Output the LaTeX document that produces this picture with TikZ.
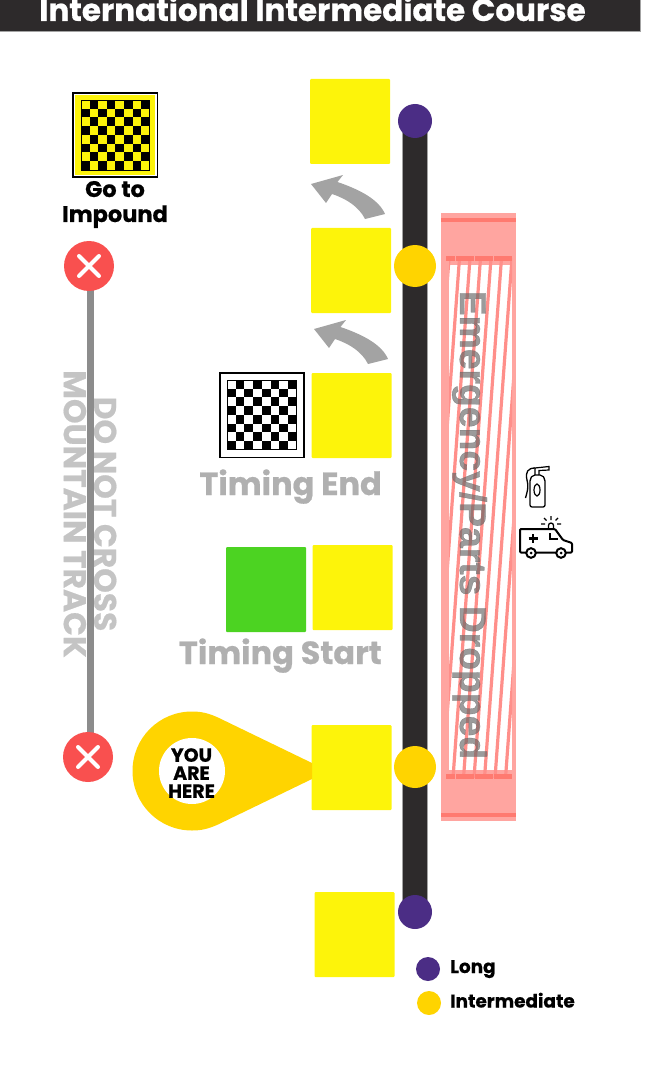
\documentclass[tikz,border=0pt]{standalone}
\usepackage{fontspec}
\setmainfont[BoldFeatures={FakeBold=0.6}]{Poppins}
\newfontfamily\signfont[BoldFeatures={FakeBold=0.8}]{Liberation Sans}
\usetikzlibrary{positioning}
\definecolor{TrackDark}{HTML}{2D2A2B}
\definecolor{PadYellow}{HTML}{FDF40A}
\definecolor{PadGreen}{HTML}{4CD322}
\definecolor{PinGold}{HTML}{FFD400}
\definecolor{LongPurple}{HTML}{4B2D85}
\definecolor{StopRed}{HTML}{F9504F}
\definecolor{ZoneRed}{HTML}{FFA5A0}
\definecolor{ZoneDark}{HTML}{FF7A70}
\definecolor{ZoneLine}{HTML}{FF8F8A}
\definecolor{SignGray}{HTML}{B0B0B0}
\definecolor{ArrowGray}{HTML}{A3A3A3}
\tikzset{
  pad/.style={fill=PadYellow, rounded corners=1pt, inner sep=0pt,
    minimum width=80pt, minimum height=85pt},
  dot/.style={circle, inner sep=0pt, minimum size=#1},
  label font/.style={inner sep=0pt, font=\fontsize{#1}{#1}\selectfont\bfseries},
  stopsign/.pic={
    \fill[StopRed] (0,0) circle (25);
    \draw[white, line width=4pt, line cap=round] (-10,-10) -- (10,10) (-10,10) -- (10,-10);
  },
  turnarrow/.pic={
    \fill[ArrowGray] (74,30) .. controls (68,16) and (50,6) .. (26.5,-2) -- (32,-9) -- (0,0)
      -- (15,19) -- (21,10) .. controls (36,15) and (48,23) .. (54,35) -- cycle;
  }
}
\newcommand{\checkers}[5]{% x, y, cell width, cell height, light colour
  \fill[#5] (#1,#2) rectangle ++({8*#3},{8*#4});
  \foreach \i in {0,...,7}
    \foreach \j in {0,...,7}{
      \pgfmathparse{int(mod(\i+\j,2))}
      \ifnum\pgfmathresult=1
        \fill[black] ({#1+\i*#3},{#2+\j*#4}) rectangle ++(#3,#4);
      \fi
    }
  \draw[black, line width=.8pt] (#1,#2) rectangle ++({8*#3},{8*#4});
}
\begin{document}
\begin{tikzpicture}[x=1pt,y=-1pt]
  \useasboundingbox (0,0) rectangle (653,1075);
  % title
  \begin{scope}
    \clip (0,0) rectangle (653,1075);
    \fill[ArrowGray] (0,0) rectangle (641,32);
    \fill[TrackDark] (0,0) rectangle (640,31);
    \node[label font=31, text=white, anchor=base] (title) at (312.5,21) {International Intermediate Course};
  \end{scope}
  % emergency zone
  \fill[ZoneRed] (441,213) rectangle (516,821);
  \fill[ZoneDark] (441,218) rectangle (516,222);
  \fill[ZoneDark] (441,813) rectangle (516,817);
  \fill[white] (449,265) rectangle (512,770);
  \begin{scope}
    \clip (449,258) rectangle (512,778);
    \foreach \k in {0,...,9}
      \draw[ZoneLine, line width=3.2pt] ({449+10.5*\k},258) -- ({411+10.5*\k},778);
  \end{scope}
  \foreach \k in {0,...,6}{
    \fill[ZoneDark] ({446+9.5*\k},256) rectangle ++(9,5);
    \fill[ZoneDark] ({446+9.5*\k},774) rectangle ++(9,5);
  }
  % track
  \draw[ArrowGray, line width=.8pt, fill=TrackDark] (402.5,120) rectangle (427.5,910);
  \node[dot=34pt, fill=LongPurple] (top) at (415,121) {};
  \node[dot=42pt, fill=PinGold] (midA) at (415,266) {};
  \node[dot=42pt, fill=PinGold] (midB) at (415,767) {};
  \node[dot=34pt, fill=LongPurple] (bot) at (415,912) {};
  % pads
  \node[pad] (padA) at (350,121.5) {};
  \node[pad] (padB) at (351,270.5) {};
  \node[pad] (padC) at (351.5,415.5) {};
  \node[pad] (padD) at (352.5,587.5) {};
  \node[pad, fill=PadGreen] (green) at (266,589.5) {};
  \node[pad] (padE) at (351.5,767.5) {};
  \node[pad] (padF) at (354.5,934.5) {};
  % arrows
  \pic at (311,184) {turnarrow};
  \pic at (314,329) {turnarrow};
  % impound flag
  \fill[black] (72,92.5) rectangle (158,178);
  \fill[white] (73.5,94) rectangle (156.5,176.5);
  \fill[PadYellow] (75,95) rectangle (155,175);
  \checkers{81}{100}{8.6}{8.75}{PadYellow}
  \node[label font=22.5, anchor=base] (goto) at (115,197) {Go to};
  \node[label font=22.5, anchor=base] (impound) at (115,222) {Impound};
  % timing flag
  \fill[black] (219,372) rectangle (304.5,458);
  \fill[white] (220.5,373.5) rectangle (303,456.5);
  \checkers{227}{380}{8.7}{8.7}{white}
  \node[label font=32, text=SignGray, anchor=base east] (tend) at (382,495) {Timing End};
  \node[label font=32, text=SignGray, anchor=base east] (tstart) at (382,664) {Timing Start};
  % mountain track
  \node[label font=31.3, text=SignGray!75, rotate=-90, align=center] (cross) at (90,514) {DO NOT CROSS\\[-1pt]MOUNTAIN TRACK};
  \draw[black!45, line width=7pt] (90.5,285) -- (90.5,735);
  \pic at (89,266) {stopsign};
  \pic at (88,757) {stopsign};
  % parts zone label
  \node[font=\signfont\bfseries\fontsize{37.3}{37.3}\selectfont, text=black!60, opacity=.65, rotate=-90, anchor=base] (parts) at (460,525) {Emergency/Parts Dropped};
  % you are here
  \fill[PinGold] (312,763) -- (218,717.5) .. controls (208,713) and (201,711.5) .. (192,711.5)
    .. controls (159,711.5) and (132.5,738) .. (132.5,771) .. controls (132.5,804) and (159,830.5) .. (192,830.5)
    .. controls (201,830.5) and (208,829) .. (218,824.5) -- (312,779) -- cycle;
  \node[dot=66pt, fill=white] (hole) at (192,771) {};
  \node[label font=19, align=center] (here) at (191.5,773) {YOU\\[-1pt]ARE\\[-1pt]HERE};
  % fire extinguisher
  \draw[line width=1.3pt, rounded corners=2pt, fill=white] (530,507) -- (530,479) -- (533,475) -- (542,475) -- (545,479) -- (545,507) -- cycle;
  \draw[line width=1.2pt] (537,490) ellipse (3 and 6);
  \draw[line width=1.2pt] (535,475) -- (535,468) -- (549,466.5) -- (549,470) -- (539,470.5) -- (539,475);
  \draw[line width=1.3pt] (535,468) .. controls (528,468) and (525,472) .. (527,480) .. controls (529,488) and (527,492) .. (525.5,498);
  % ambulance
  \draw[line width=2pt, line join=round, rounded corners=1pt] (520,529) -- (555,529) -- (563,540) -- (572,543) -- (572,552.5) -- (520,552.5) -- cycle;
  \draw[line width=2pt, fill=white] (531,553) circle (4.8);
  \draw[line width=2pt, fill=white] (561,553) circle (4.8);
  \fill (531,553) circle (1.5) (561,553) circle (1.5);
  \draw[line width=2.4pt] (528.5,538.5) -- (537.5,538.5) (533,534) -- (533,543);
  \draw[line width=1.5pt] (550,533) -- (550,539) -- (558,539);
  \draw[line width=1.3pt] (548.5,528) -- (548.5,525.5) arc[start angle=180, end angle=360, radius=2.5] -- (553.5,528);
  \draw[line width=1.3pt] (541,524) -- (545,524) (557,524) -- (561,524) (551,516) -- (551,520) (544,518) -- (546.5,520.5) (558,518) -- (555.5,520.5);
  % legend
  \node[dot=24pt, fill=LongPurple] (keyLong) at (428,969) {};
  \node[dot=24pt, fill=PinGold] (keyMid) at (429,1003) {};
  \node[label font=18.4, anchor=base west] (long) at (450,973) {Long};
  \node[label font=18.4, anchor=base west] (inter) at (450,1007.5) {Intermediate};
\end{tikzpicture}
\end{document}
